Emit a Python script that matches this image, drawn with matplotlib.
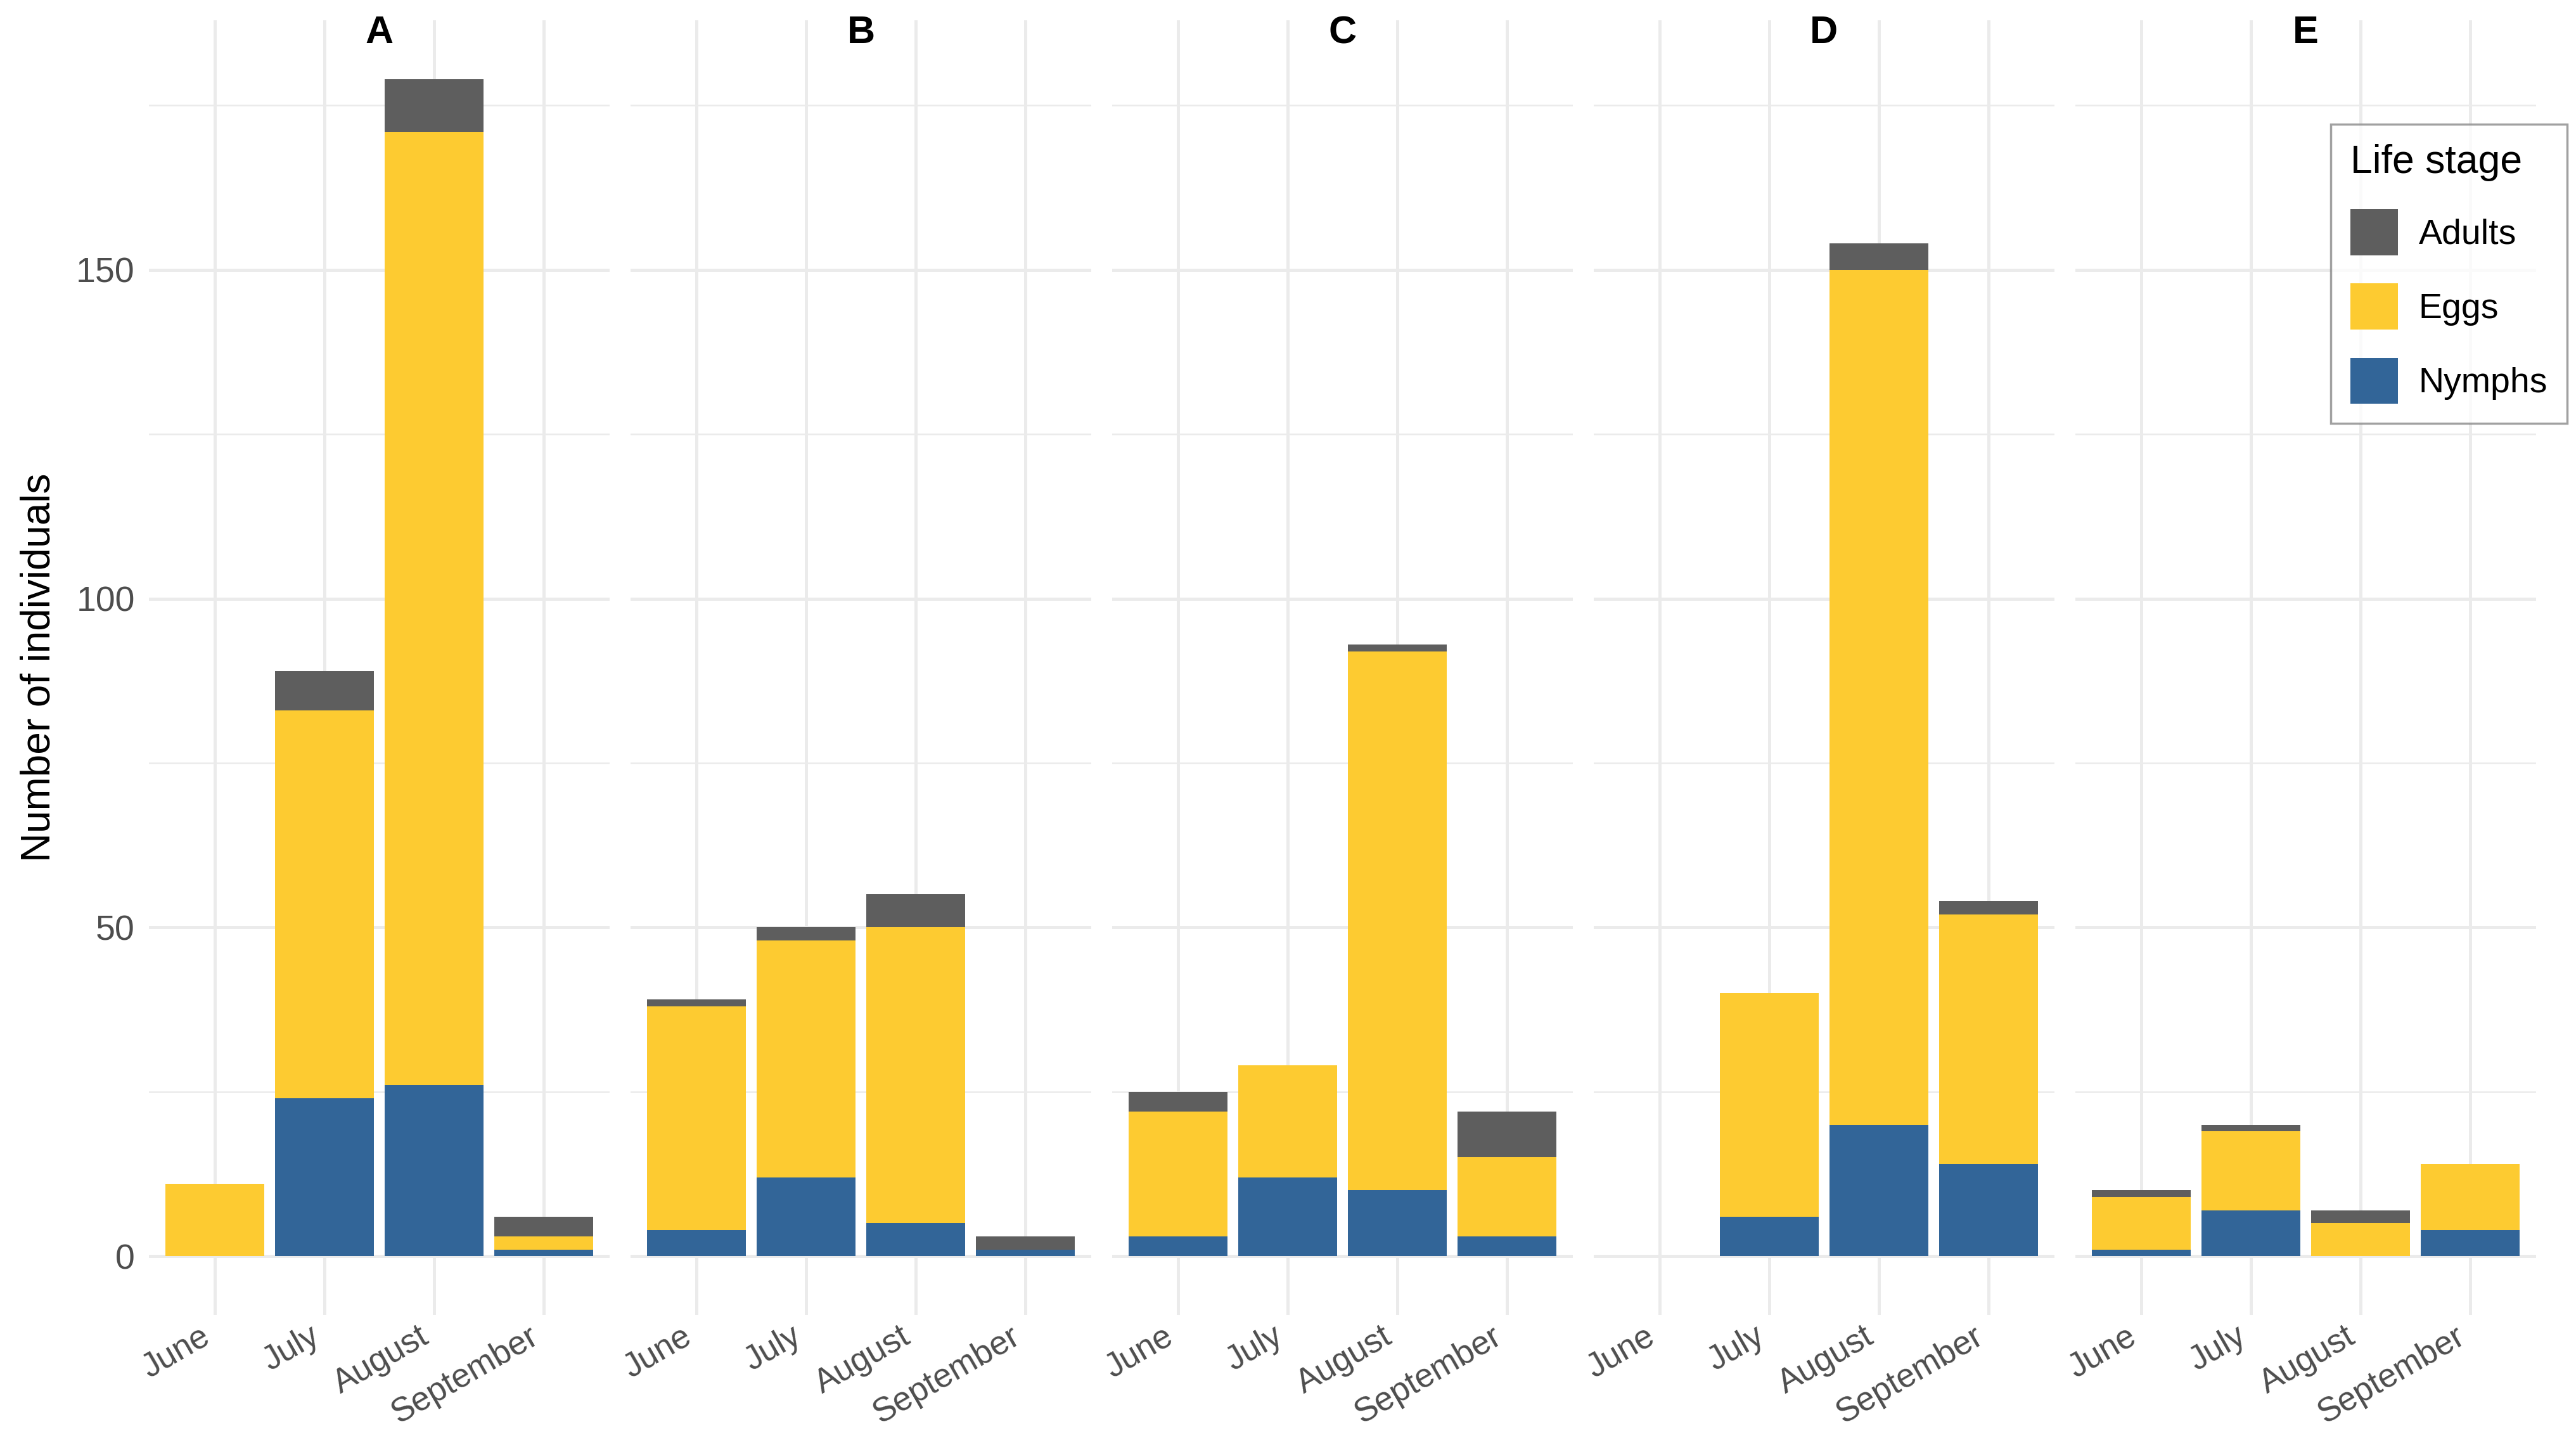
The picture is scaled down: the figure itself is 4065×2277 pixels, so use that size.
import numpy as np
import matplotlib
matplotlib.use("Agg")
import matplotlib.pyplot as plt
from matplotlib.patches import Patch

plt.rcParams['font.family'] = ['Liberation Sans', 'DejaVu Sans']

# data (stacked counts per month and site)
months = ['June', 'July', 'August', 'September']
sites = ['A', 'B', 'C', 'D', 'E']

nymphs = {
    'A': [0, 24, 26, 1],
    'B': [4, 12, 5, 1],
    'C': [3, 12, 10, 3],
    'D': [0, 6, 20, 14],
    'E': [1, 7, 0, 4],
}
eggs = {
    'A': [11, 59, 145, 2],
    'B': [34, 36, 45, 0],
    'C': [19, 17, 82, 12],
    'D': [0, 34, 130, 38],
    'E': [8, 12, 5, 10],
}
adults = {
    'A': [0, 6, 8, 3],
    'B': [1, 2, 5, 2],
    'C': [3, 0, 1, 7],
    'D': [0, 0, 4, 2],
    'E': [1, 1, 2, 0],
}

col_adults = '#5E5E5E'
col_eggs = '#FDCB31'
col_nymphs = '#326598'
grid_col = '#EBEBEB'
tick_col = '#4D4D4D'

W, H = 4066, 2277
fig = plt.figure(figsize=(W / 100, H / 100), dpi=100)

# panel geometry (pixels of the reference)
left0 = 235
pw = 727
gap = 33
top_px = 32
bot_px = 2075

# common y range with ggplot-like 5% expansion
totals = [np.array(nymphs[s]) + np.array(eggs[s]) + np.array(adults[s]) for s in sites]
ymax = max(t.max() for t in totals)
ylim = (-0.05 * ymax, ymax * 1.05)

x = np.arange(len(months))

for i, s in enumerate(sites):
    l = (left0 + i * (pw + gap)) / W
    b = (H - bot_px) / H
    ax = fig.add_axes([l, b, pw / W, (bot_px - top_px) / H])

    n = np.array(nymphs[s])
    e = np.array(eggs[s])
    a = np.array(adults[s])
    ax.bar(x, n, width=0.9, color=col_nymphs, zorder=3)
    ax.bar(x, e, width=0.9, bottom=n, color=col_eggs, zorder=3)
    ax.bar(x, a, width=0.9, bottom=n + e, color=col_adults, zorder=3)

    ax.set_xlim(-0.6, len(months) - 0.4)
    ax.set_ylim(*ylim)
    ax.set_yticks([0, 50, 100, 150])
    ax.set_yticks([25, 75, 125, 175], minor=True)
    ax.set_xticks(x)

    ax.grid(True, which='major', axis='both', color=grid_col, lw=3.6, zorder=0)
    ax.grid(True, which='minor', axis='y', color=grid_col, lw=1.8, zorder=0)
    ax.set_axisbelow(True)
    for sp in ax.spines.values():
        sp.set_visible(False)

    ax.tick_params(axis='both', which='both', length=0)
    ax.tick_params(axis='y', pad=16, labelsize=40, labelcolor=tick_col)
    # ggplot style: the rotated box is right/top justified at the tick
    ax.set_xticklabels(months, rotation=30, ha='right', va='top',
                       fontsize=38, color=tick_col)
    ax.tick_params(axis='x', pad=6)
    if i > 0:
        ax.set_yticklabels([])

    ax.text(0.5, 0.9898, s, transform=ax.transAxes, ha='center', va='center',
            fontsize=44, fontweight='bold', color='black')

fig.text(62 / W, 1 - 1053 / H, 'Number of individuals', rotation=90,
         ha='center', va='center', fontsize=46, color='black')

handles = [Patch(facecolor=col_adults, label='Adults'),
           Patch(facecolor=col_eggs, label='Eggs'),
           Patch(facecolor=col_nymphs, label='Nymphs')]
leg = fig.legend(handles=handles, title='Life stage', loc='upper left',
                 bbox_to_anchor=(3678 / W, 1 - 196 / H), borderaxespad=0,
                 fontsize=40, title_fontsize=45, handlelength=1.35,
                 handleheight=1.64, labelspacing=0.8, handletextpad=0.6,
                 borderpad=0.55, fancybox=False, frameon=True)
leg.get_frame().set_edgecolor('#8A8A8A')
leg.get_frame().set_linewidth(2.5)
leg._legend_box.align = 'left'

fig.savefig('out.png', dpi=100, facecolor='white')
